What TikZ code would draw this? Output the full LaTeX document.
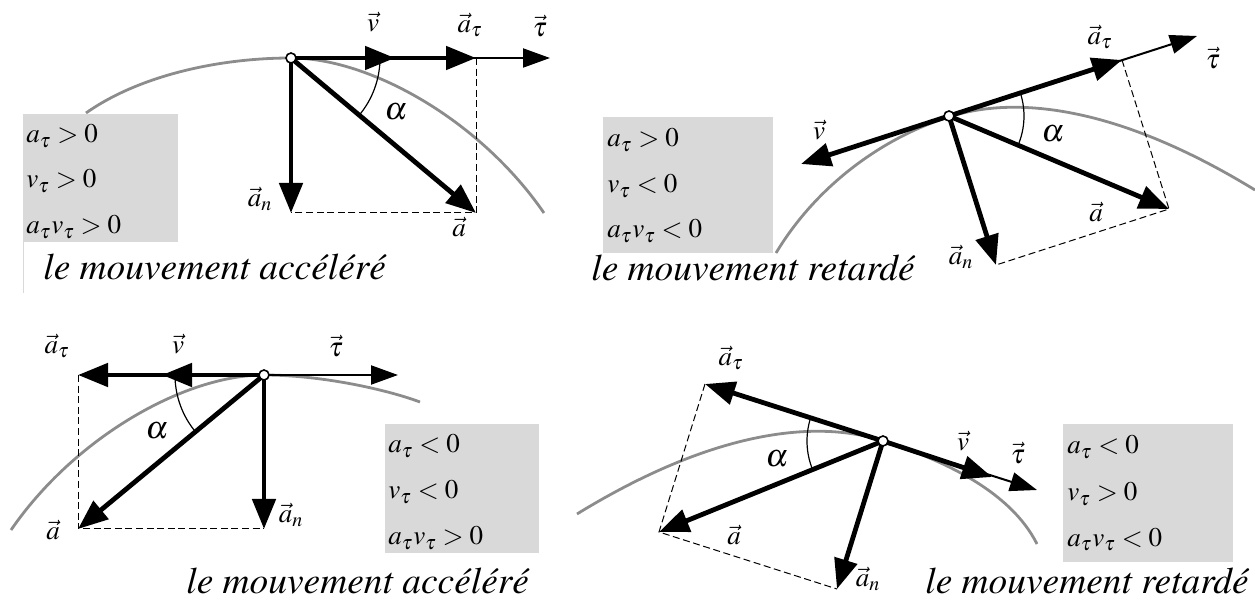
\documentclass[tikz,border=0pt]{standalone}
\usepackage[T1]{fontenc}
\usepackage{mathptmx}
\usetikzlibrary{arrows.meta}

\begin{document}
\begin{tikzpicture}[
  x=0.5pt, y=-0.5pt,
  bigvec/.style={line width=2.4pt, -{Triangle[length=15pt,width=11.5pt]}},
  axisvec/.style={line width=1pt, -{Triangle[length=13.5pt,width=9.5pt]}},
  trajectory/.style={line width=1.4pt, black!45},
  proj/.style={dash pattern=on 3.5pt off 1.8pt, line width=0.5pt},
  angmark/.style={line width=0.6pt},
  pnt/.style={circle, draw, fill=white, line width=0.8pt, inner sep=0pt, minimum size=5pt},
  lbl/.style={inner sep=0pt, font=\fontsize{13.5}{16}\selectfont},
  ang/.style={inner sep=0pt, font=\fontsize{16}{18}\selectfont},
  cond/.style={anchor=base west, inner sep=0pt, font=\fontsize{13.5}{16}\selectfont},
  motion/.style={anchor=base west, inner sep=0pt, font=\fontsize{18.7}{21}\selectfont\itshape},
  condbox/.style={fill=black!15}
]
\useasboundingbox (0,0) rectangle (1255,604);

% ---------- Panel 1: accelerated, a_tau > 0
\draw[trajectory] (86,113) .. controls (140,75) and (220,58) .. (291,58)
  .. controls (370,58) and (480,120) .. (544,213);
\fill[condbox] (23,114) rectangle (178,242);
\draw[black!15, line width=0.5pt] (23,242) -- (23,293);
\node[cond] (c1a) at (26,143) {$a_\tau > 0$};
\node[cond] (c1b) at (26,188) {$v_\tau > 0$};
\node[cond] (c1c) at (26,234) {$a_\tau v_\tau > 0$};
\node[motion] (m1) at (43,280) {le mouvement accéléré};

\coordinate (O1) at (291,58);
\coordinate (v1) at (395,58);
\coordinate (at1) at (476,58);
\coordinate (t1) at (550,58);
\coordinate (an1) at (291,213);
\coordinate (a1) at (476,213);
\draw[proj] (at1) -- (a1) -- (an1);
\draw[angmark] ([shift={(0:89)}]O1) arc[start angle=0, end angle=39.9, radius=89];
\draw[axisvec] (O1) -- (t1);
\draw[bigvec] (O1) -- (at1);
\draw[bigvec] (O1) -- (v1);
\draw[bigvec] (O1) -- (an1);
\draw[bigvec] (O1) -- (a1);
\node[pnt] (P1) at (O1) {};
\node[lbl] (lv1) at (373,22) {$\vec v$};
\node[lbl] (lat1) at (470,25) {$\vec a_\tau$};
\node[lbl] (lt1) at (540,26) {$\vec\tau$};
\node[lbl] (lan1) at (260,199) {$\vec a_n$};
\node[lbl] (la1) at (459,227) {$\vec a$};
\node[ang] (lal1) at (396,112) {$\alpha$};

% ---------- Panel 2: retarded, v_tau < 0
\draw[trajectory] (776,253) .. controls (820,180) and (890,135) .. (949,117)
  .. controls (1000,100) and (1100,95) .. (1255,190);
\fill[condbox] (603,117) rectangle (773,253);
\node[cond] (c2a) at (607,147) {$a_\tau > 0$};
\node[cond] (c2b) at (607,193) {$v_\tau < 0$};
\node[cond] (c2c) at (607,238) {$a_\tau v_\tau < 0$};
\node[motion] (m2) at (591,281) {le mouvement retardé};

\coordinate (O2) at (949,116);
\coordinate (v2) at (801,164);
\coordinate (at2) at (1122,60);
\coordinate (t2) at (1197,36);
\coordinate (an2) at (996,265);
\coordinate (a2) at (1169,209);
\draw[proj] (at2) -- (a2) -- (an2);
\draw[angmark] ([shift={(-17.9:75)}]O2) arc[start angle=-17.9, end angle=22.9, radius=75];
\draw[axisvec] (O2) -- (t2);
\draw[bigvec] (O2) -- (at2);
\draw[bigvec] (O2) -- (v2);
\draw[bigvec] (O2) -- (an2);
\draw[bigvec] (O2) -- (a2);
\node[pnt] (P2) at (O2) {};
\node[lbl] (lv2) at (819,130) {$\vec v$};
\node[lbl] (lat2) at (1100,37) {$\vec a_\tau$};
\node[lbl] (lt2) at (1213,58) {$\vec\tau$};
\node[lbl] (lan2) at (961,257) {$\vec a_n$};
\node[lbl] (la2) at (1096,212) {$\vec a$};
\node[ang] (lal2) at (1053,134) {$\alpha$};

% ---------- Panel 3: accelerated, a_tau < 0
\draw[trajectory] (11,530) .. controls (75,437) and (185,375) .. (264,375)
  .. controls (320,375) and (385,389) .. (420,402);
\fill[condbox] (385,424) rectangle (539,553);
\node[cond] (c3a) at (388,453) {$a_\tau < 0$};
\node[cond] (c3b) at (388,499) {$v_\tau < 0$};
\node[cond] (c3c) at (388,545) {$a_\tau v_\tau > 0$};
\node[motion] (m3) at (186,594) {le mouvement accéléré};

\coordinate (O3) at (264,375);
\coordinate (v3) at (162,375);
\coordinate (at3) at (78,375);
\coordinate (t3) at (398,375);
\coordinate (an3) at (264,529);
\coordinate (a3) at (78,529);
\draw[proj] (at3) -- (a3) -- (an3);
\draw[angmark] ([shift={(140.2:89)}]O3) arc[start angle=140.2, end angle=180, radius=89];
\draw[axisvec] (O3) -- (t3);
\draw[bigvec] (O3) -- (at3);
\draw[bigvec] (O3) -- (v3);
\draw[bigvec] (O3) -- (an3);
\draw[bigvec] (O3) -- (a3);
\node[pnt] (P3) at (O3) {};
\node[lbl] (lv3) at (178,344) {$\vec v$};
\node[lbl] (lat3) at (57,346) {$\vec a_\tau$};
\node[lbl] (lt3) at (336,346) {$\vec\tau$};
\node[lbl] (lan3) at (291,515) {$\vec a_n$};
\node[lbl] (la3) at (53,530) {$\vec a$};
\node[ang] (lal3) at (157,431) {$\alpha$};

% ---------- Panel 4: retarded, v_tau > 0
\draw[trajectory] (577,514) .. controls (732,419) and (832,424) .. (883,441)
  .. controls (940,459) and (1010,490) .. (1037,544);
\fill[condbox] (1063,424) rectangle (1233,562);
\node[cond] (c4a) at (1067,454) {$a_\tau < 0$};
\node[cond] (c4b) at (1067,501) {$v_\tau > 0$};
\node[cond] (c4c) at (1067,546) {$a_\tau v_\tau < 0$};
\node[motion] (m4) at (925,594) {le mouvement retardé};

\coordinate (O4) at (883,441);
\coordinate (v4) at (992,477);
\coordinate (at4) at (705,384);
\coordinate (t4) at (1037,490);
\coordinate (an4) at (837,589);
\coordinate (a4) at (659,532);
\draw[proj] (at4) -- (a4) -- (an4);
\draw[angmark] ([shift={(157.9:76)}]O4) arc[start angle=157.9, end angle=197.8, radius=76];
\draw[axisvec] (O4) -- (t4);
\draw[bigvec] (O4) -- (at4);
\draw[bigvec] (O4) -- (v4);
\draw[bigvec] (O4) -- (an4);
\draw[bigvec] (O4) -- (a4);
\node[pnt] (P4) at (O4) {};
\node[lbl] (lv4) at (963,441) {$\vec v$};
\node[lbl] (lat4) at (731,358) {$\vec a_\tau$};
\node[lbl] (lt4) at (1018,453) {$\vec\tau$};
\node[lbl] (lan4) at (868,579) {$\vec a_n$};
\node[lbl] (la4) at (734,535) {$\vec a$};
\node[ang] (lal4) at (777,459) {$\alpha$};

\end{tikzpicture}
\end{document}
